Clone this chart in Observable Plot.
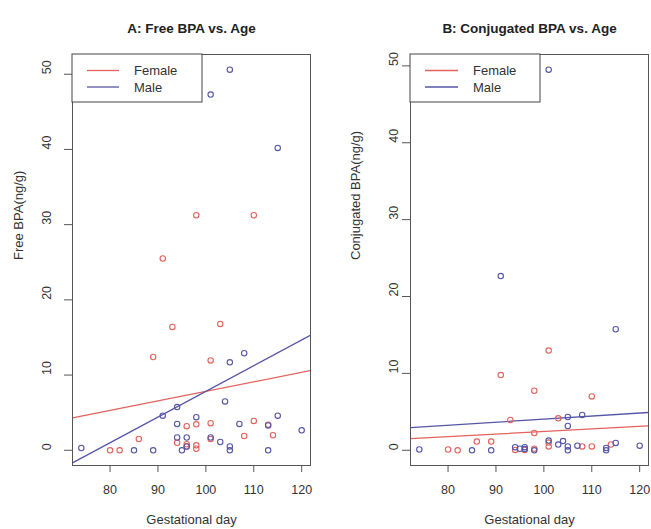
<!DOCTYPE html>
<html><head><meta charset="utf-8">
<script src="https://cdn.jsdelivr.net/npm/d3@7"></script>
<script src="https://cdn.jsdelivr.net/npm/@observablehq/plot@0.6"></script>
<style>
body{margin:0;background:#fff;}
#wrap{display:flex;width:651px;height:529px;overflow:hidden;}
#wrap svg{flex:none;}
</style></head><body><div id="wrap"></div>
<script>
const xTicks = [80, 90, 100, 110, 120];
const yTicks = [0, 10, 20, 30, 40, 50];
const sexes = ["Female", "Male"];
const sexColors = ["#e3625c", "#5656a8"];
const titles = ["A: Free BPA vs. Age", "B: Conjugated BPA vs. Age"];
const yLabels = ["Free BPA(ng/g)", "Conjugated BPA(ng/g)"];
const xLabel = "Gestational day";

// Panel A: free BPA
const freeFemaleDay = [98, 110, 91, 93, 103, 89, 101, 96, 98, 101, 110, 113, 114, 108, 86, 80, 82, 94, 96, 96, 98, 98, 101];
const freeFemaleBPA = [31.25, 31.25, 25.5, 16.4, 16.8, 12.4, 11.95, 3.2, 3.45, 3.6, 3.9, 3.4, 2.0, 1.9, 1.5, 0, 0, 1.0, 0.8, 0.5, 0.66, 0.2, 1.5];
const freeMaleDay = [105, 101, 115, 105, 108, 104, 91, 94, 94, 98, 107, 113, 115, 120, 74, 85, 89, 94, 96, 96, 95, 101, 103, 105, 105, 113];
const freeMaleBPA = [50.6, 47.3, 40.2, 11.7, 12.9, 6.5, 4.6, 5.75, 3.5, 4.4, 3.5, 3.3, 4.6, 2.65, 0.3, 0, 0, 1.7, 1.7, 0.5, 0, 1.7, 1.1, 0.5, 0, 0];
const fitFreeFemale = [-4.87, 0.127];   // intercept, slope
const fitFreeMale = [-26.36, 0.342];

// Panel B: conjugated BPA
const conjFemaleDay = [101, 91, 98, 110, 93, 103, 98, 86, 89, 80, 82, 94, 96, 98, 101, 101, 108, 110, 114];
const conjFemaleBPA = [12.97, 9.78, 7.74, 7.0, 3.94, 4.15, 2.25, 1.13, 1.13, 0.1, 0, 0.05, 0.05, 0.2, 1.0, 0.5, 0.5, 0.5, 0.75];
const conjMaleDay = [101, 91, 115, 105, 105, 108, 74, 85, 89, 94, 96, 95, 96, 98, 101, 103, 104, 105, 105, 107, 113, 113, 115, 120];
const conjMaleBPA = [49.5, 22.66, 15.74, 4.33, 3.16, 4.6, 0.1, 0, 0, 0.4, 0.4, 0.2, 0.15, 0, 1.26, 0.74, 1.2, 0.5, 0, 0.6, 0.3, 0, 0.95, 0.6];
const fitConjFemale = [-0.876, 0.0332];
const fitConjMale = [0.06, 0.0399];

function rows(days, vals, sex) { return days.map((d, i) => ({day: d, bpa: vals[i], sex})); }
function rpad([a, b]) { const d = (b - a) * 0.04; return [a - d, b + d]; }

function legendMark(lineX0, lineX1, textX) {
  return (index, scales, values, dims) => {
    const g = d3.create("svg:g");
    const x0 = dims.marginLeft, y0 = dims.marginTop;
    g.append("rect").attr("x", x0).attr("y", y0).attr("width", 130).attr("height", 48)
      .attr("fill", "white").attr("stroke", "#444").attr("stroke-width", 1);
    sexes.forEach((s, i) => {
      const y = y0 + 16.5 + i * 16.5;
      g.append("line").attr("x1", x0 + lineX0).attr("x2", x0 + lineX1).attr("y1", y).attr("y2", y)
        .attr("stroke", sexColors[i]).attr("stroke-width", 1.3);
      g.append("text").attr("x", x0 + textX).attr("y", y).attr("dy", "0.35em")
        .attr("text-anchor", "start")
        .attr("font-size", 13).attr("fill", "#333").text(s);
    });
    return g.node();
  };
}

function panel({idx, female, male, fits, width, marginLeft, marginRight, tickDx, ylabDx, legendX}) {
  const pts = [...female, ...male];
  const xd = rpad(d3.extent(pts, d => d.day));
  const yd = rpad(d3.extent(pts, d => d.bpa));
  const lines = fits.flatMap((f, i) => xd.map(x => ({day: x, bpa: f[0] + f[1] * x, sex: sexes[i]})));
  return Plot.plot({
    width, height: 529, marginTop: 54, marginBottom: 64, marginLeft, marginRight,
    x: {domain: xd}, y: {domain: yd},
    color: {domain: sexes, range: sexColors},
    style: {fontFamily: "'Liberation Sans', Arial, Helvetica, sans-serif", color: "#333", background: "white", overflow: "visible"},
    marks: [
      Plot.axisX({ticks: xTicks, tickSize: 7, tickPadding: 13, fontSize: 12.5, label: null, stroke: "#555"}),
      Plot.axisY({ticks: yTicks, tickSize: 8, tickFormat: () => "", label: null, stroke: "#555"}),
      Plot.text(yTicks, {y: d => d, text: d => String(d), frameAnchor: "left", dx: tickDx, rotate: -90, fontSize: 12.5}),
      Plot.line(lines, {x: "day", y: "bpa", z: "sex", stroke: "sex", strokeWidth: 1.3, clip: true}),
      Plot.dot(pts, {x: "day", y: "bpa", stroke: "sex", r: 2.7, strokeWidth: 1.1}),
      Plot.frame({stroke: "#555"}),
      legendMark(...legendX),
      Plot.text([titles[idx]], {text: d => d, frameAnchor: "top", dy: -31, fontWeight: "bold", fontSize: 13.5, fill: "#222"}),
      Plot.text([xLabel], {text: d => d, frameAnchor: "bottom", dy: 58, fontSize: 13}),
      Plot.text([yLabels[idx]], {text: d => d, frameAnchor: "left", dx: ylabDx, rotate: -90, fontSize: 13})
    ]
  });
}

const wrap = document.getElementById("wrap");
wrap.append(panel({
  idx: 0,
  female: rows(freeFemaleDay, freeFemaleBPA, "Female"),
  male: rows(freeMaleDay, freeMaleBPA, "Male"),
  fits: [fitFreeFemale, fitFreeMale],
  width: 325, marginLeft: 72, marginRight: 15, tickDx: -26, ylabDx: -54,
  legendX: [15, 47, 62]
}));
wrap.append(panel({
  idx: 1,
  female: rows(conjFemaleDay, conjFemaleBPA, "Female"),
  male: rows(conjMaleDay, conjMaleBPA, "Male"),
  fits: [fitConjFemale, fitConjMale],
  width: 326, marginLeft: 85, marginRight: 3, tickDx: -17, ylabDx: -55,
  legendX: [15, 48, 63]
}));
</script>
</body></html>
